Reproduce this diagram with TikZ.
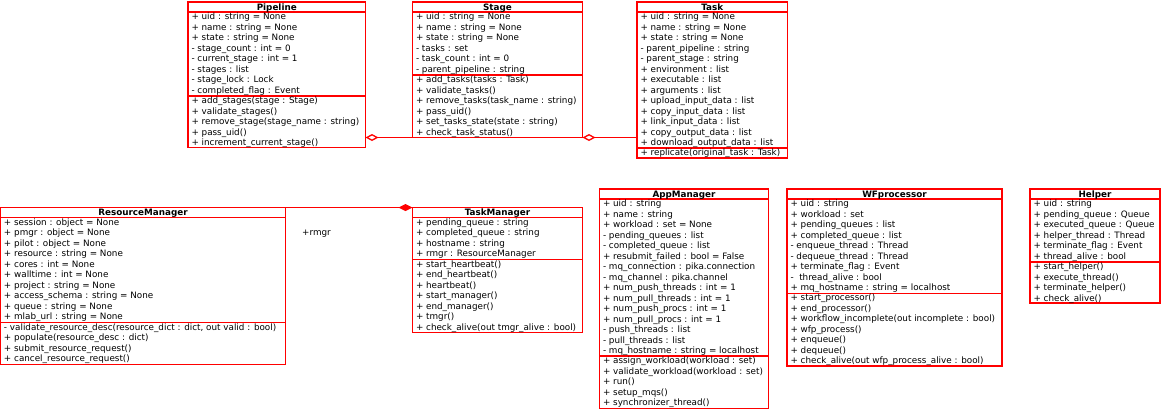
\documentclass[tikz,border=0pt]{standalone}
\usepackage{fontspec}
\setmainfont{DejaVu Sans}
\usetikzlibrary{arrows.meta,fit}
\tikzset{
  classthick/.style={draw=red, line width=1.6pt, inner sep=0pt, outer sep=0pt},
  classthin/.style={draw=red, line width=1pt, inner sep=0pt, outer sep=0pt},
  septhick/.style={draw=red, line width=1.6pt},
  septhin/.style={draw=red, line width=1pt},
  txt/.style={anchor=north west, inner sep=0pt, outer sep=0pt, align=left, font=\fontsize{8.8}{10.5}\selectfont},
  ttl/.style={anchor=base, inner sep=0pt, font=\fontsize{8.8}{10.5}\selectfont\bfseries},
  conn/.style={draw=red, line width=1pt},
}
\begin{document}
\begin{tikzpicture}[x=1pt, y=-1pt]
\useasboundingbox (0,0) rectangle (1163,410);

% ---------------- Pipeline
\node[classthick, fit={(188,2) (365.5,147.5)}] (pipe) {};
\draw[septhick] (pipe.west |- 0,12) -- (pipe.east |- 0,12);
\draw[septhick] (pipe.west |- 0,96) -- (pipe.east |- 0,96);
\node[ttl] (pipeT) at (pipe.north |- 0,10.3) {Pipeline};
\node[txt] (pipeA) at (191.5,13.3) {+ uid : string = None\\+ name : string = None\\+ state : string = None\\- stage\_count : int = 0\\- current\_stage : int = 1\\- stages : list\\- stage\_lock : Lock\\- completed\_flag : Event};
\node[txt] (pipeM) at (191.5,97.3) {+ add\_stages(stage : Stage)\\+ validate\_stages()\\+ remove\_stage(stage\_name : string)\\+ pass\_uid()\\+ increment\_current\_stage()};

% ---------------- Stage
\node[classthick, fit={(412.5,2) (582.5,137.5)}] (stage) {};
\draw[septhick] (stage.west |- 0,12) -- (stage.east |- 0,12);
\draw[septhick] (stage.west |- 0,75) -- (stage.east |- 0,75);
\node[ttl] (stageT) at (stage.north |- 0,10.3) {Stage};
\node[txt] (stageA) at (416,13.3) {+ uid : string = None\\+ name : string = None\\+ state : string = None\\- tasks : set\\- task\_count : int = 0\\- parent\_pipeline : string};
\node[txt] (stageM) at (416,76.3) {+ add\_tasks(tasks : Task)\\+ validate\_tasks()\\+ remove\_tasks(task\_name : string)\\+ pass\_uid()\\+ set\_tasks\_state(state : string)\\+ check\_task\_status()};

% ---------------- Task
\node[classthick, fit={(637,2) (787.5,158)}] (task) {};
\draw[septhick] (task.west |- 0,12) -- (task.east |- 0,12);
\draw[septhick] (task.west |- 0,148) -- (task.east |- 0,148);
\node[ttl] (taskT) at (task.north |- 0,10.3) {Task};
\node[txt] (taskA) at (640.5,13.3) {+ uid : string = None\\+ name : string = None\\+ state : string = None\\- parent\_pipeline : string\\- parent\_stage : string\\+ environment : list\\+ executable : list\\+ arguments : list\\+ upload\_input\_data : list\\+ copy\_input\_data : list\\+ link\_input\_data : list\\+ copy\_output\_data : list\\+ download\_output\_data : list};
\node[txt] (taskM) at (640.5,149.3) {+ replicate(original\_task : Task)};

% ---------------- ResourceManager
\node[classthin, fit={(0.5,207.5) (285.5,364)}] (rm) {};
\draw[septhin] (rm.west |- 0,217.5) -- (rm.east |- 0,217.5);
\draw[septhin] (rm.west |- 0,322.5) -- (rm.east |- 0,322.5);
\node[ttl] (rmT) at (rm.north |- 0,215.5) {ResourceManager};
\node[txt] (rmA) at (4,218.8) {+ session : object = None\\+ pmgr : object = None\\+ pilot : object = None\\+ resource : string = None\\+ cores : int = None\\+ walltime : int = None\\+ project : string = None\\+ access\_schema : string = None\\+ queue : string = None\\+ mlab\_url : string = None};
\node[txt] (rmM) at (4,323.8) {- validate\_resource\_desc(resource\_dict : dict, out valid : bool)\\+ populate(resource\_desc : dict)\\+ submit\_resource\_request()\\+ cancel\_resource\_request()};

% ---------------- TaskManager
\node[classthin, fit={(412.5,207.5) (582.5,332)}] (tm) {};
\draw[septhin] (tm.west |- 0,217.5) -- (tm.east |- 0,217.5);
\draw[septhin] (tm.west |- 0,259.5) -- (tm.east |- 0,259.5);
\node[ttl] (tmT) at (tm.north |- 0,215.5) {TaskManager};
\node[txt] (tmA) at (416,218.8) {+ pending\_queue : string\\+ completed\_queue : string\\+ hostname : string\\+ rmgr : ResourceManager};
\node[txt] (tmM) at (416,260.8) {+ start\_heartbeat()\\+ end\_heartbeat()\\+ heartbeat()\\+ start\_manager()\\+ end\_manager()\\+ tmgr()\\+ check\_alive(out tmgr\_alive : bool)};

% ---------------- AppManager
\node[classthick, fit={(599.5,189) (768.5,408.5)}] (am) {};
\draw[septhick] (am.west |- 0,199) -- (am.east |- 0,199);
\draw[septhick] (am.west |- 0,356) -- (am.east |- 0,356);
\node[ttl] (amT) at (am.north |- 0,197.3) {AppManager};
\node[txt] (amA) at (603,200.3) {+ uid : string\\+ name : string\\+ workload : set = None\\- pending\_queues : list\\- completed\_queue : list\\+ resubmit\_failed : bool = False\\- mq\_connection : pika.connection\\- mq\_channel : pika.channel\\+ num\_push\_threads : int = 1\\+ num\_pull\_threads : int = 1\\+ num\_push\_procs : int = 1\\+ num\_pull\_procs : int = 1\\- push\_threads : list\\- pull\_threads : list\\- mq\_hostname : string = localhost};
\node[txt] (amM) at (603,357.3) {+ assign\_workload(workload : set)\\+ validate\_workload(workload : set)\\+ run()\\+ setup\_mqs()\\+ synchronizer\_thread()};

% ---------------- WFprocessor
\node[classthick, fit={(787,189) (1002,366)}] (wfp) {};
\draw[septhick] (wfp.west |- 0,199) -- (wfp.east |- 0,199);
\draw[septhin] (wfp.west |- 0,293) -- (wfp.east |- 0,293);
\node[ttl] (wfpT) at (wfp.north |- 0,197.3) {WFprocessor};
\node[txt] (wfpA) at (790.5,200.3) {+ uid : string\\+ workload : set\\+ pending\_queues : list\\+ completed\_queue : list\\- enqueue\_thread : Thread\\- dequeue\_thread : Thread\\+ terminate\_flag : Event\\-~~thread\_alive : bool\\+ mq\_hostname : string = localhost};
\node[txt] (wfpM) at (790.5,294.3) {+ start\_processor()\\+ end\_processor()\\+ workflow\_incomplete(out incomplete : bool)\\+ wfp\_process()\\+ enqueue()\\+ dequeue()\\+ check\_alive(out wfp\_process\_alive : bool)};

% ---------------- Helper
\node[classthick, fit={(1030,189) (1160,303)}] (hlp) {};
\draw[septhick] (hlp.west |- 0,199) -- (hlp.east |- 0,199);
\draw[septhick] (hlp.west |- 0,262) -- (hlp.east |- 0,262);
\node[ttl] (hlpT) at (hlp.north |- 0,197.3) {Helper};
\node[txt] (hlpA) at (1033.5,200.3) {+ uid : string\\+ pending\_queue : Queue\\+ executed\_queue : Queue\\+ helper\_thread : Thread\\+ terminate\_flag : Event\\+ thread\_alive : bool};
\node[txt] (hlpM) at (1033.5,263.3) {+ start\_helper()\\+ execute\_thread()\\+ terminate\_helper()\\+ check\_alive()};

% ---------------- Connectors
\draw[conn, {Diamond[open, length=13pt, width=7pt, line width=1.3pt]}-] (pipe.east |- stage.south) -- (stage.south west);
\draw[conn, {Diamond[open, length=13pt, width=7pt, line width=1.3pt]}-] (stage.south east) -- (task.west |- stage.south);
\draw[conn, -{Diamond[length=14pt, width=7pt]}] (rm.north east) -- (tm.north west);
\node[anchor=base west, inner sep=0pt, font=\fontsize{8.8}{10.5}\selectfont] (rmgrlbl) at (302,235.5) {+rmgr};
\end{tikzpicture}
\end{document}
